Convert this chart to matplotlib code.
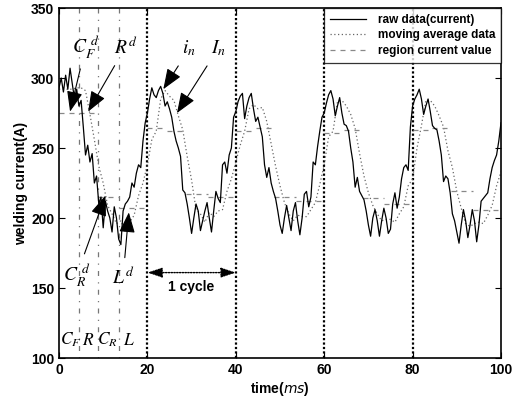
import numpy as np
import matplotlib
matplotlib.use("Agg")
import matplotlib.pyplot as plt

plt.rcParams['font.family'] = ['Liberation Sans', 'DejaVu Sans']
plt.rcParams['mathtext.fontset'] = 'stix'

# ---------------- data ----------------
raw_time = np.arange(0, 100.01, 0.5)
raw_current = [
    293, 300, 290, 302, 292, 307, 296, 285, 292, 280, 284, 265, 245, 252, 240, 246, 225, 230, 210, 215,
    193, 212, 205, 200, 190, 208, 200, 185, 181, 205, 210, 212, 215, 225, 222, 232, 238, 236, 255, 268,
    275, 285, 293, 288, 286, 291, 294, 289, 280, 283, 278, 272, 262, 255, 250, 244, 220, 218, 210, 200,
    189, 200, 210, 205, 191, 198, 205, 211, 200, 190, 205, 219, 214, 211, 238, 240, 232, 245, 250, 272,
    276, 283, 287, 289, 271, 280, 286, 289, 278, 269, 272, 265, 258, 238, 229, 236, 225, 219, 214, 205,
    195, 189, 200, 209, 200, 191, 205, 211, 198, 188, 200, 217, 219, 208, 215, 240, 238, 251, 262, 272,
    275, 282, 288, 291, 285, 273, 280, 286, 275, 267, 266, 262, 250, 240, 222, 229, 219, 216, 213, 205,
    195, 187, 200, 206, 198, 187, 198, 207, 200, 189, 192, 210, 218, 207, 215, 228, 236, 238, 234, 265,
    280, 285, 288, 292, 285, 274, 280, 285, 276, 266, 264, 263, 255, 245, 226, 230, 228, 218, 203, 198,
    190, 182, 195, 206, 198, 186, 195, 206, 198, 183, 195, 212, 214, 216, 218, 228, 236, 241, 245, 255,
    268,
]

avg_time = np.arange(0, 101, 1)
avg_current = [
    292, 292, 292, 292, 293, 293, 291, 274, 256, 237, 225, 209, 203, 196, 198, 190, 197, 202, 216, 225,
    238, 256, 262, 285, 291, 287, 284, 273, 263, 244, 227, 206, 203, 197, 204, 201, 205, 206, 219, 228,
    240, 252, 262, 278, 281, 278, 279, 269, 253, 237, 223, 211, 203, 198, 202, 201, 201, 206, 211, 224,
    238, 258, 262, 283, 284, 280, 274, 264, 246, 230, 218, 209, 203, 198, 199, 199, 197, 203, 208, 223,
    228, 250, 266, 284, 284, 280, 273, 265, 248, 236, 219, 207, 196, 194, 196, 197, 196, 202, 209, 223,
    233,
]

# region boundaries inside one cycle (ms) and region values per cycle
region_offsets = [0, 4.5, 8.75, 13.6, 20]
region_values = [
    [275, 275, 215, 207],
    [264, 262, 217, 215],
    [262, 264, 215, 212],
    [261, 263, 214, 210],
    [263, 264, 219, 206],
]
cycle_starts = [0, 20, 40, 60, 80]
cycle_lines = [20, 40, 60, 80]
region_lines = [4.5, 8.75, 13.6]
region_labels = ['$C_F$', '$R$', '$C_R$', '$L$']
region_label_x = [2.6, 6.6, 11.0, 15.9]

# ---------------- figure ----------------
fig = plt.figure(figsize=(5.16, 3.97), dpi=100)
ax = fig.add_axes([59/516, 1-358/397, (501-59)/516, (358-8)/397])

for x in cycle_lines:
    ax.axvline(x, color='black', ls=(0, (1, 1)), lw=1.6, zorder=1)
for x in region_lines:
    ax.axvline(x, color='#777777', ls=(0, (1, 5, 4, 5)), lw=0.9, zorder=1)

ax.plot(raw_time, raw_current, color='black', lw=0.9, label='raw data(current)', zorder=3)
ax.plot(avg_time, avg_current, color='#666666', lw=0.9, ls=(0, (1, 2)), label='moving average data', zorder=2)

# region current values as step segments
rx, ry = [], []
for c0, vals in zip(cycle_starts, region_values):
    for k, v in enumerate(vals):
        rx += [c0 + region_offsets[k], c0 + region_offsets[k + 1], np.nan]
        ry += [v, v, np.nan]
ax.plot(rx, ry, color='#888888', lw=0.9, ls=(0, (4, 4)), label='region current value', zorder=2)

ax.set_xlim(0, 100)
ax.set_ylim(100, 350)
ax.set_xticks([0, 20, 40, 60, 80, 100])
ax.set_yticks([100, 150, 200, 250, 300, 350])
ax.tick_params(direction='in', top=True, right=True, length=4, labelsize=10, width=0.8)
for lab in ax.get_xticklabels() + ax.get_yticklabels():
    lab.set_fontweight('bold')
for s in ax.spines.values():
    s.set_linewidth(1.2)

ax.set_xlabel('time($\\mathit{ms}$)', fontsize=10, fontweight='bold', labelpad=2,
              math_fontfamily='dejavusans')
ax.set_ylabel('welding current(A)', fontsize=10, fontweight='bold', labelpad=2)

leg = ax.legend(loc='upper right', frameon=True, fancybox=False,
                borderaxespad=0, handlelength=3.0, labelspacing=0.3, borderpad=0.5,
                handletextpad=1.0, edgecolor='black', prop={'weight': 'bold', 'size': 8.5})
leg.get_frame().set_linewidth(0.9)

arrow = dict(arrowstyle='-|>,head_length=0.9,head_width=0.35', color='black', lw=0.8,
             shrinkA=4, shrinkB=0)
tfs = 14
ax.annotate('$C_F^{\\ d}$', xy=(2.5, 276), xytext=(6.0, 322), ha='center', va='center',
            fontsize=tfs, arrowprops=arrow)
ax.annotate('$R^{d}$', xy=(6.6, 276), xytext=(15.0, 322), ha='center', va='center',
            fontsize=tfs, arrowprops=arrow)
ax.annotate('$i_n$', xy=(23.6, 292), xytext=(29.5, 321), ha='center', va='center',
            fontsize=tfs, arrowprops=arrow)
ax.annotate('$I_n$', xy=(26.7, 275), xytext=(36.0, 321), ha='center', va='center',
            fontsize=tfs, arrowprops=arrow)
ax.annotate('$C_R^{\\ d}$', xy=(10.5, 216), xytext=(4.0, 159), ha='center', va='center',
            fontsize=tfs, arrowprops=arrow)
ax.annotate('$L^{d}$', xy=(15.8, 204), xytext=(14.5, 158), ha='center', va='center',
            fontsize=tfs, arrowprops=arrow)

# 1 cycle arrow
ax.annotate('', xy=(20, 161), xytext=(40, 161),
            arrowprops=dict(arrowstyle='<|-|>,head_length=0.9,head_width=0.3', color='black',
                            lw=1.0, ls=(0, (1, 1)), shrinkA=0, shrinkB=0))
ax.text(30, 151, '1 cycle', ha='center', va='center', fontsize=10, fontweight='bold')

for lab, x in zip(region_labels, region_label_x):
    ax.text(x, 113, lab, ha='center', va='center', fontsize=12.5)

fig.savefig('out.png', dpi=100)
